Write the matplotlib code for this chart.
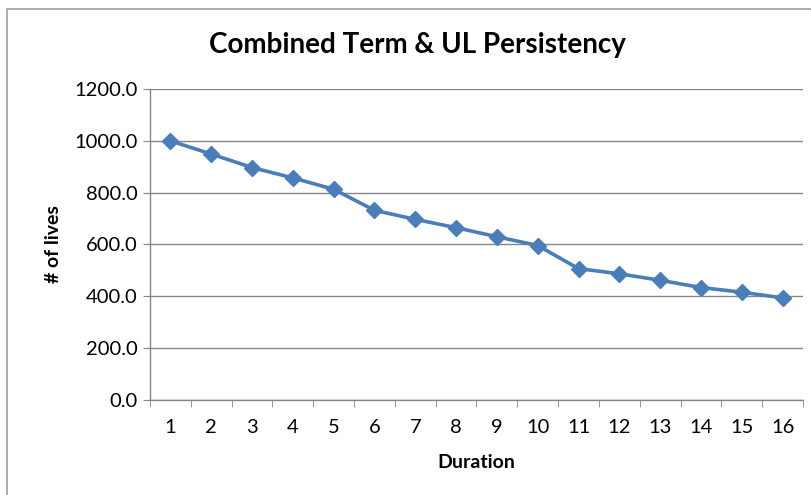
import matplotlib
matplotlib.use("Agg")
from matplotlib import pyplot as plt
from matplotlib.patches import Rectangle
import numpy as np

plt.rcParams['font.family'] = ['Lato', 'DejaVu Sans']

duration = list(range(1, 17))
lives = [1000, 949, 897, 857, 813, 732, 697, 665, 630, 596, 507, 487, 462, 434, 416, 394]
yticks = [0, 200, 400, 600, 800, 1000, 1200]

grey = '#868686'
blue = '#4A7EBB'

fig = plt.figure(figsize=(8.12, 4.95), dpi=100)
ax = fig.add_axes([150/812, 1 - 400/495, 653/812, 311/495])

# chart border (cropped on right/bottom in the original)
fig.patches.append(Rectangle((7/812, -0.05), 1.1, 1 - 9/495 + 0.05, transform=fig.transFigure,
                             fill=False, edgecolor='#A0A0A0', linewidth=1.2))

ax.plot(duration, lives, color=blue, linewidth=2.6, marker='D', markersize=8.5,
        markerfacecolor=blue, markeredgecolor=blue, zorder=3)

ax.set_xlim(0.5, 16.5)
ax.set_ylim(0, 1200)
ax.set_yticks(yticks)
ax.set_yticklabels([f'{v:.1f}' for v in yticks], fontsize=14.5)
ax.set_xticks(duration)
ax.set_xticklabels([str(d) for d in duration], fontsize=14.5)
ax.set_xticks(np.arange(0.5, 17, 1), minor=True)
ax.tick_params(axis='x', which='major', length=0, pad=14)
ax.tick_params(axis='x', which='minor', length=5, color=grey, direction='out')
ax.tick_params(axis='y', length=5, color=grey, direction='out', pad=4)

ax.grid(axis='y', color=grey, linewidth=1)
ax.set_axisbelow(True)
for s in ['top', 'right']:
    ax.spines[s].set_visible(False)
for s in ['left', 'bottom']:
    ax.spines[s].set_color(grey)
    ax.spines[s].set_linewidth(1)

ax.set_xlabel('Duration', fontsize=14, fontweight='bold', labelpad=13)
ax.set_ylabel('# of lives', fontsize=14, fontweight='bold', labelpad=9)
fig.text(417/812, 1 - 45/495, 'Combined Term & UL Persistency', fontsize=20, fontweight='bold',
         ha='center', va='center')

fig.savefig('out.png', dpi=100)
